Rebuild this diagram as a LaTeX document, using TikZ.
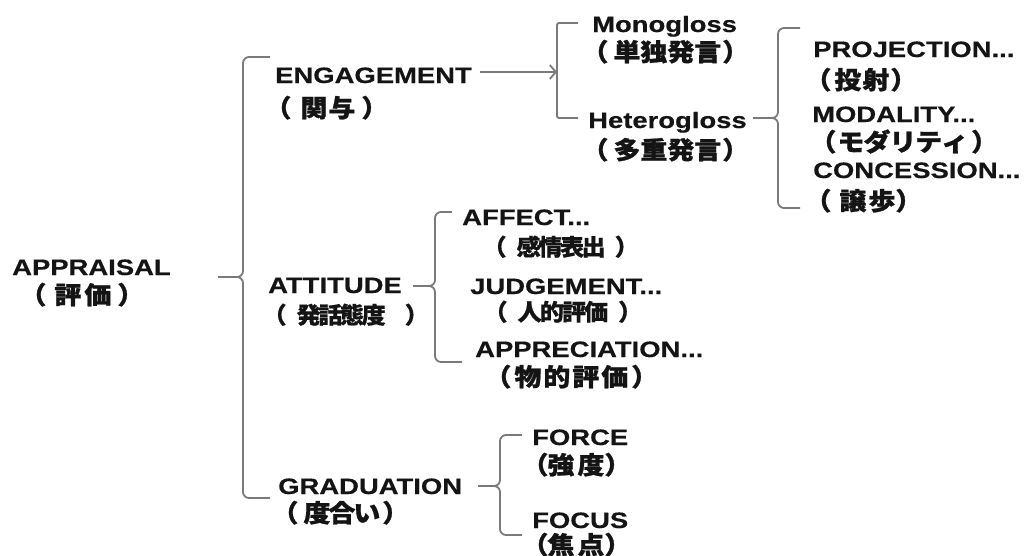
\documentclass[tikz,border=0pt]{standalone}
\usepackage{fontspec}
\setmainfont{Liberation Sans}[FakeStretch=1.23,FakeBold=0.4]
\newfontfamily\cjk{Noto Sans CJK JP}[FakeStretch=1.1,FakeBold=1]
\newfontfamily\cjkl{Noto Sans CJK JP}[FakeStretch=1.05,FakeBold=0.5]
\usetikzlibrary{arrows.meta}
\definecolor{ln}{HTML}{7A7A7A}
\definecolor{tx}{HTML}{141414}
\newcommand\lp[1][4pt]{\kern-0.64em（\kern#1}
\newcommand\rp[1][4pt]{\kern#1）}
\begin{document}
\begin{tikzpicture}[x=1pt,y=-1pt,
  lat/.style={anchor=base west, inner sep=0pt, text=tx, font=\fontsize{22.3}{24}\selectfont\bfseries},
  jp/.style={anchor=base west, inner sep=0pt, text=tx, font=\fontsize{24.5}{26}\selectfont\cjk\bfseries},
  jps/.style={anchor=base west, inner sep=0pt, text=tx, font=\fontsize{23}{25}\selectfont\cjkl\bfseries},
  br/.style={draw=ln, line width=1.8pt, rounded corners=6pt},
  bk/.style={draw=ln, line width=1.8pt, rounded corners=2pt},
  arr/.style={draw=ln, line width=1.8pt, -{Straight Barb[length=6pt,width=14pt,line width=1.8pt]}}]
\useasboundingbox (0,0) rectangle (1027,555);
\fill[white] (0,0) rectangle (1027,555);
% labels
\node[lat] (appr) at (12,275) {APPRAISAL};
\node[jp] (apprj) at (35,304) {\lp[8pt]評\kern3pt価\rp[6pt]};
\node[lat] (eng) at (275,83) {ENGAGEMENT};
\node[jp] (engj) at (280,117) {\lp[9pt]関\kern1pt与\rp[6pt]};
\node[lat] (mono) at (592,32) {Monogloss};
\node[jp] (monoj) at (597,61) {\lp[5pt]単\kern0pt独\kern0pt発\kern0pt言\rp[1pt]};
\node[lat] (hetero) at (588,128) {Heterogloss};
\node[jp] (heteroj) at (597,159) {\lp[5pt]多\kern0pt重\kern0pt発\kern0pt言\rp[1pt]};
\node[lat] (proj) at (813,57) {PROJECTION...};
\node[jp] (projj) at (820,89) {\lp[3pt]投\kern1pt射\rp[1pt]};
\node[lat] (moda) at (812,122) {MODALITY...};
\node[jp] (modaj) at (825,151) {\lp[1pt]モ\kern-1ptダ\kern-1ptリ\kern-1ptテ\kern-1ptィ\rp[3pt]};
\node[lat] (conc) at (813,178) {CONCESSION...};
\node[jp] (concj) at (820,210) {\lp[8pt]譲\kern2pt歩\rp[0pt]};
\node[lat] (att) at (268,293) {ATTITUDE};
\node[jps] (attj) at (277,323.5) {\lp[10pt]発\kern-2.5pt話\kern-2.5pt態\kern-2.5pt度\rp[19pt]};
\node[lat] (aff) at (462,225) {AFFECT...};
\node[jps] (affj) at (497,255.5) {\lp[10pt]感\kern-2.5pt情\kern-2.5pt表\kern-2.5pt出\rp[9pt]};
\node[lat] (judg) at (470,294) {JUDGEMENT...};
\node[jps] (judgj) at (498,320.5) {\lp[10pt]人\kern-2pt的\kern-2pt評\kern-2pt価\rp[10pt]};
\node[lat] (appre) at (475,357) {APPRECIATION...};
\node[jp] (apprej) at (500,386) {\lp[3pt]物\kern2pt的\kern2pt評\kern2pt価\rp[3pt]};
\node[lat] (grad) at (278,494) {GRADUATION};
\node[jp] (gradj) at (287,522) {\lp[5pt]度\kern-2pt合\kern-2ptい\rp[2pt]};
\node[lat] (force) at (532,445) {FORCE};
\node[jp] (forcej) at (537,474) {\lp[-1pt]強\kern3pt度\rp[0pt]};
\node[lat] (focus) at (532,528) {FOCUS};
\node[jp] (focusj) at (537,554) {\lp[-1pt]焦\kern3pt点\rp[0pt]};
% brace points
\coordinate (m-tip) at (218,277); \coordinate (m-c) at (243,277);
\coordinate (m-t) at (270,57);    \coordinate (m-b) at (270,498);
\coordinate (e-s) at (480,72);    \coordinate (g1-c) at (557,72);
\coordinate (g1-t) at (578,23);   \coordinate (g1-b) at (578,118);
\coordinate (h-tip) at (753,118); \coordinate (h-c) at (778,118);
\coordinate (h-t) at (800,28);    \coordinate (h-b) at (800,208);
\coordinate (a-tip) at (413,286); \coordinate (a-c) at (435,286);
\coordinate (a-t) at (452,212);   \coordinate (a-b) at (462,362);
\coordinate (d-tip) at (478,486); \coordinate (d-c) at (500,486);
\coordinate (d-t) at (522,435);   \coordinate (d-b) at (522,535);
% braces
\draw[br] (m-t) -| (m-c) -- (m-tip);
\draw[br] (m-tip) -- (m-c) |- (m-b);
\draw[bk] (g1-t) -| (g1-c) |- (g1-b);
\draw[arr] (e-s) -- (g1-c);
\draw[br] (h-t) -| (h-c) -- (h-tip);
\draw[br] (h-tip) -- (h-c) |- (h-b);
\draw[br] (a-t) -| (a-c) -- (a-tip);
\draw[br] (a-tip) -- (a-c) |- (a-b);
\draw[br] (d-t) -| (d-c) -- (d-tip);
\draw[br] (d-tip) -- (d-c) |- (d-b);
\end{tikzpicture}
\end{document}
